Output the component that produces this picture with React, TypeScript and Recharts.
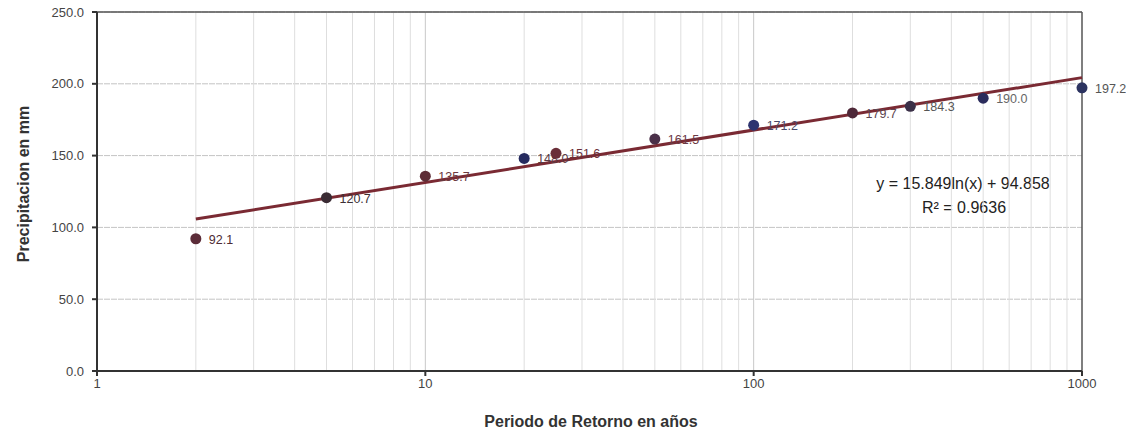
import React from 'react';
import {
  ComposedChart,
  Scatter,
  Line,
  XAxis,
  YAxis,
  CartesianGrid,
  ReferenceLine,
  Cell,
  Customized,
} from 'recharts';

// Return periods (years) and computed precipitation (mm)
const periods = [2, 5, 10, 20, 25, 50, 100, 200, 300, 500, 1000];
const precipitation = [92.1, 120.7, 135.7, 148.0, 151.6, 161.5, 171.2, 179.7, 184.3, 190.0, 197.2];

// Logarithmic trend line endpoints: y = 15.849 ln(x) + 94.858
const trendX = [2, 1000];
const trendY = [105.8, 204.3];

const xTicks = [1, 10, 100, 1000];
const yTicks = [0, 50, 100, 150, 200, 250];
const minorGridYears = [2, 3, 4, 5, 6, 7, 8, 9, 10, 20, 30, 40, 50, 60, 70, 80, 90, 100, 200, 300, 400, 500, 600, 700, 800, 900];

const equationText = 'y = 15.849ln(x) + 94.858';
const rSquaredText = 'R² = 0.9636';
const xTitle = 'Periodo de Retorno en años';
const yTitle = 'Precipitacion en mm';

const pointColors = ['#5b2c38', '#3a2b33', '#5e2e37', '#252a5e', '#6a2e38', '#4a2f48', '#2e3470', '#4e2838', '#3b3048', '#2b2c5c', '#2c3360'];
const labelColors = ['#4d2b34', '#3d3035', '#6b3a40', '#5a3b45', '#6b2e38', '#6b3a45', '#4a4a6a', '#5d4550', '#555555', '#666666', '#555555'];

const points = periods.map((x, i) => ({ x, y: precipitation[i], idx: i }));
const trend = trendX.map((x, i) => ({ x, t: trendY[i] }));

const FONT = '"Liberation Sans", Arial, sans-serif';

const PointShape = (props: any) => {
  const { cx, cy, payload } = props;
  const i = payload.idx;
  return (
    <g>
      <circle cx={cx} cy={cy} r={5.5} fill={pointColors[i]} />
      <text
        x={cx + 13}
        y={cy + 1}
        dominantBaseline="central"
        fontSize={12.5}
        fontFamily={FONT}
        fill={labelColors[i]}
      >
        {payload.y.toFixed(1)}
      </text>
    </g>
  );
};

const Annotations = () => (
  <g fontFamily={FONT}>
    <text x={963} y={183} textAnchor="middle" dominantBaseline="central" fontSize={16} fill="#222">
      {equationText}
    </text>
    <text x={964} y={207} textAnchor="middle" dominantBaseline="central" fontSize={16} fill="#222">
      {rSquaredText}
    </text>
    <text
      transform="translate(23,184) rotate(-90)"
      textAnchor="middle"
      dominantBaseline="central"
      fontSize={16}
      fontWeight="bold"
      fill="#333"
    >
      {yTitle}
    </text>
    <text x={591} y={421} textAnchor="middle" dominantBaseline="central" fontSize={16} fontWeight="bold" fill="#333">
      {xTitle}
    </text>
  </g>
);

export default function App() {
  return (
    <div style={{ position: 'absolute', left: 0, top: 0, background: '#fff' }}>
      <ComposedChart width={1126} height={431} margin={{ top: 12, right: 44, bottom: 0, left: 0 }}>
        <CartesianGrid vertical={false} stroke="#c4c4c4" strokeDasharray="6 1" />
        {minorGridYears.map((v) => (
          <ReferenceLine
            key={v}
            x={v}
            stroke={v === 10 || v === 100 ? '#c8c8c8' : '#dedede'}
            strokeWidth={1}
          />
        ))}
        <ReferenceLine y={250} stroke="#555" strokeWidth={1.5} />
        <ReferenceLine x={1000} stroke="#555" strokeWidth={1.5} />
        <XAxis
          type="number"
          dataKey="x"
          scale="log"
          domain={[1, 1000]}
          ticks={xTicks}
          height={60}
          tickSize={5}
          tickMargin={3}
          stroke="#333"
          strokeWidth={2}
          tick={{ fontSize: 13, fill: '#444', fontFamily: FONT }}
        />
        <YAxis
          type="number"
          domain={[0, 250]}
          ticks={yTicks}
          width={97}
          tickSize={5}
          tickMargin={8}
          stroke="#333"
          strokeWidth={2}
          tickFormatter={(v: number) => v.toFixed(1)}
          tick={{ fontSize: 13, fill: '#444', fontFamily: FONT }}
        />
        <Line
          data={trend}
          dataKey="t"
          stroke="#7a2a33"
          strokeWidth={3}
          dot={false}
          activeDot={false}
          isAnimationActive={false}
        />
        <Scatter data={points} dataKey="y" shape={PointShape} isAnimationActive={false}>
          {points.map((p) => (
            <Cell key={p.x} fill={pointColors[p.idx]} />
          ))}
        </Scatter>
        <Customized component={Annotations} />
      </ComposedChart>
    </div>
  );
}
